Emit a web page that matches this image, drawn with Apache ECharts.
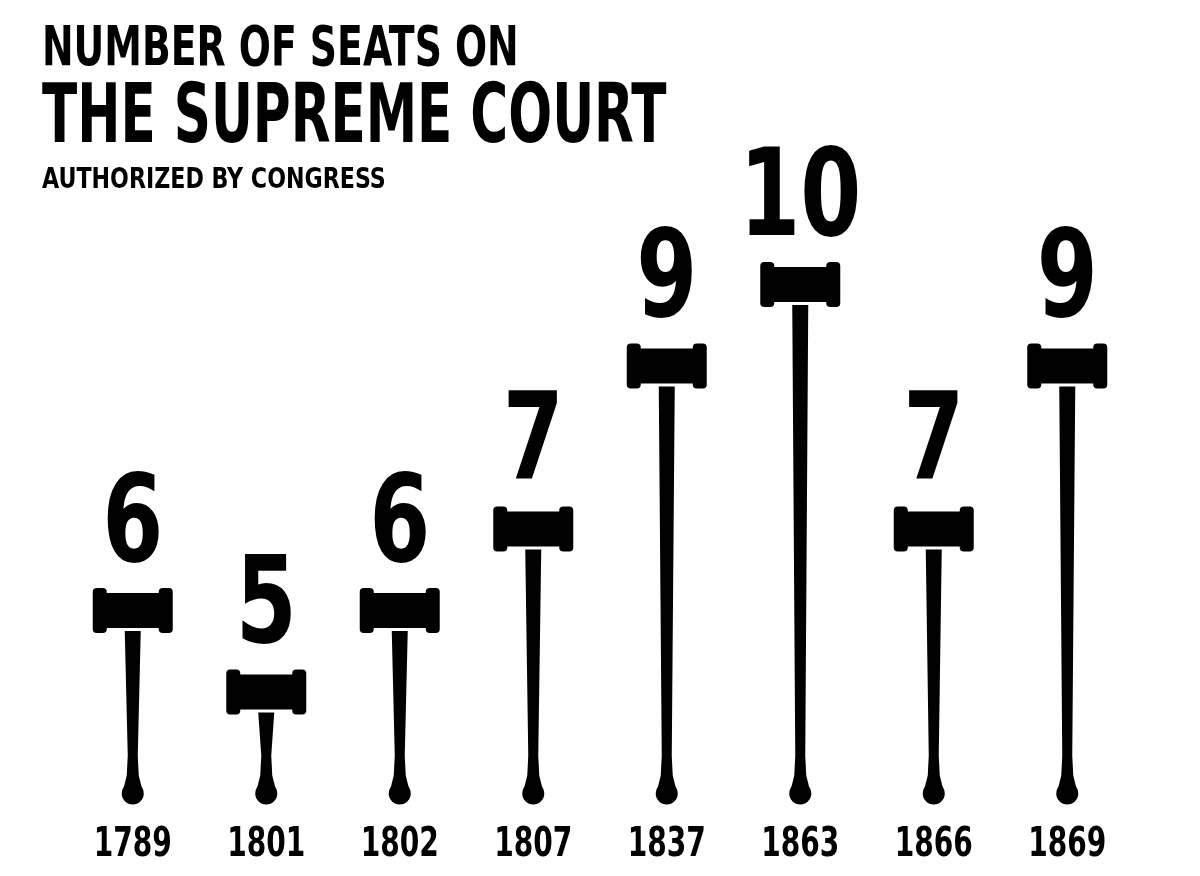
<!DOCTYPE html>
<html><head><meta charset="utf-8">
<script src="https://cdn.jsdelivr.net/npm/echarts@6/dist/echarts.min.js"></script>
<style>html,body{margin:0;padding:0;background:#fff}#c{width:1200px;height:876px}</style>
</head><body><div id="c"></div>
<script>
const years = ['1789','1801','1802','1807','1837','1863','1866','1869'];
const seats = [6,5,6,7,9,10,7,9];
const titleLines = ['NUMBER OF SEATS ON','THE SUPREME COURT','AUTHORIZED BY CONGRESS'];
const FONT = '"DejaVu Sans Condensed","Liberation Sans",sans-serif';
const chart = echarts.init(document.getElementById('c'));
chart.setOption({
  backgroundColor:'#fff',
  graphic:[
    {type:'text',x:42,y:22,scaleX:0.75,style:{text:titleLines[0],fontFamily:FONT,fontWeight:'bold',fontSize:56,fill:'#000',verticalAlign:'top'}},
    {type:'text',x:42,y:80,scaleX:0.70,style:{text:titleLines[1],fontFamily:FONT,fontWeight:'bold',fontSize:82,fill:'#000',verticalAlign:'top'}},
    {type:'text',x:42,y:167,scaleX:0.88,style:{text:titleLines[2],fontFamily:FONT,fontWeight:'bold',fontSize:28,fill:'#000',verticalAlign:'top'}}
  ],
  grid:{left:66,right:66,top:99,bottom:43.5},
  xAxis:{type:'category',data:years,axisLine:{show:false},axisTick:{show:false},axisLabel:{show:false}},
  yAxis:{type:'value',min:3,max:12,show:false,splitLine:{show:false}},
  series:[{type:'custom',data:seats.map((v,i)=>[i,v]),
    renderItem:function(params,api){
      const i=api.value(0), v=api.value(1);
      const top=api.coord([i,v]); const x=top[0], y=top[1];
      const base=api.coord([i,3])[1];
      const bot=base-37;
      const hb=y+45;
      return {type:'group',children:[
        {type:'rect',shape:{x:x-40,y:y,width:14,height:45,r:4},style:{fill:'#000'}},
        {type:'rect',shape:{x:x+26,y:y,width:14,height:45,r:4},style:{fill:'#000'}},
        {type:'rect',shape:{x:x-36,y:y+5,width:72,height:35,r:2},style:{fill:'#000'}},
        {type:'polygon',shape:{points:[[x-8,hb-2],[x+8,hb-2],[x+5,bot-40],[x+6,bot-20],[x+10,bot-4],[x-10,bot-4],[x-6,bot-20],[x-5,bot-40]]},style:{fill:'#000'}},
        {type:'circle',shape:{cx:x,cy:bot-2,r:11},style:{fill:'#000'}},
        {type:'text',x:x,y:y+2,scaleX:0.8,style:{text:String(v),fontFamily:FONT,fontWeight:'bold',fontSize:122,fill:'#000',align:'center',verticalAlign:'bottom'}},
        {type:'text',x:x,y:base+13,scaleX:0.78,style:{text:years[i],fontFamily:FONT,fontWeight:'bold',fontSize:40,fill:'#000',align:'center',verticalAlign:'middle'}}
      ]};
    }}]
});
</script></body></html>
